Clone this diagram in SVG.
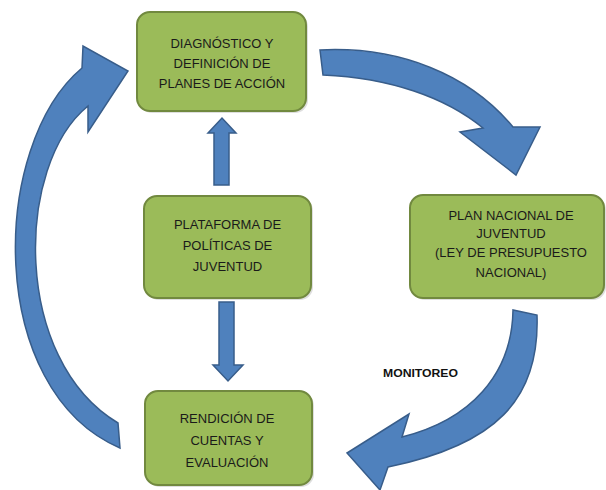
<svg xmlns="http://www.w3.org/2000/svg" width="606" height="490" viewBox="0 0 606 490">
<style>
.box{fill:#9BBB59;stroke:#71893F;stroke-width:2}
.sh{fill:#c8c8c8;opacity:0.6}
.arr{fill:#4F81BD;stroke:#385D8A;stroke-width:1.5;stroke-linejoin:miter}
.t{font-family:"Liberation Sans",Arial,sans-serif;font-size:13px;fill:#1a1a1a;text-anchor:middle}
.m{font-family:"Liberation Sans",Arial,sans-serif;font-size:11px;font-weight:bold;fill:#111}
</style>
<rect width="606" height="490" fill="#fff"/>
<g id="connectors">
<path class="arr" d="M320,50 C400,46 470,75 513,127 L540,127 L516,175 L460,132 L483,128 C445,97 390,78 323,75 Z"/>
<path class="arr" d="M513,310 C512,375 470,420 402,437 L409,414 L347,453 L380,490 L388,467 C495,445 540,400 537,315 Z"/>
<path class="arr" d="M120,448 C-15,390 -10,145 82,68 L83,46 L128,71 L88,132 L88,106 C15,165 12,360 118,423 Z"/>
<path class="arr" d="M214,185 L214,133 L208,133 L222,118 L236,133 L229,133 L229,185 Z"/>
<path class="arr" d="M219,302 L234,302 L234,365 L243,365 L228,381 L213,365 L219,365 Z"/>
</g>
<g id="node-diagnostico">
<rect class="sh" x="139" y="14" width="169" height="99" rx="13"/>
<rect class="box" x="137" y="12" width="169" height="99" rx="13"/>
<text class="t" x="222" y="47.5">DIAGNÓSTICO Y</text>
<text class="t" x="222" y="67.5">DEFINICIÓN DE</text>
<text class="t" x="222" y="87.5">PLANES DE ACCIÓN</text>
</g>
<g id="node-plataforma">
<rect class="sh" x="146" y="198" width="167" height="102" rx="13"/>
<rect class="box" x="144" y="196" width="167" height="102" rx="13"/>
<text class="t" x="227.5" y="228.5">PLATAFORMA DE</text>
<text class="t" x="227.5" y="249.5">POLÍTICAS DE</text>
<text class="t" x="227.5" y="271">JUVENTUD</text>
</g>
<g id="node-plan">
<rect class="sh" x="412" y="197" width="194" height="103" rx="13"/>
<rect class="box" x="410" y="195" width="194" height="103" rx="13"/>
<text class="t" x="511" y="219.5">PLAN NACIONAL DE</text>
<text class="t" x="511" y="238">JUVENTUD</text>
<text class="t" x="511" y="257">(LEY DE PRESUPUESTO</text>
<text class="t" x="511" y="276.5">NACIONAL)</text>
</g>
<g id="node-rendicion">
<rect class="sh" x="147" y="393" width="167" height="94" rx="13"/>
<rect class="box" x="145" y="391" width="167" height="94" rx="13"/>
<text class="t" x="227" y="422.5">RENDICIÓN DE</text>
<text class="t" x="227" y="444.5">CUENTAS Y</text>
<text class="t" x="227" y="466.5">EVALUACIÓN</text>
</g>
<text class="m" x="383" y="377" textLength="75" lengthAdjust="spacingAndGlyphs">MONITOREO</text>
</svg>
